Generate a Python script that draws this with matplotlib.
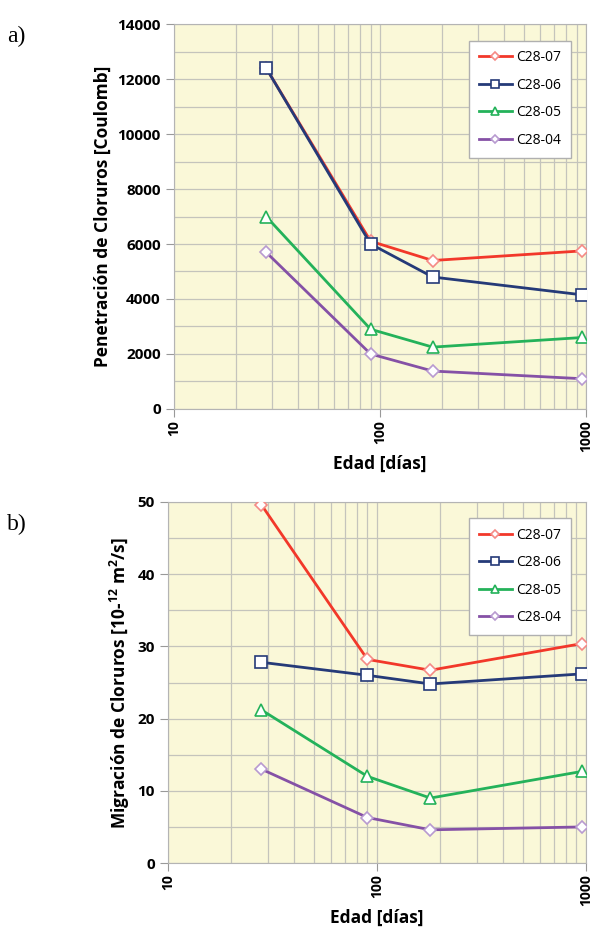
import matplotlib
matplotlib.use("Agg")
import matplotlib.pyplot as plt
from matplotlib.ticker import LogLocator, FixedLocator, MultipleLocator, NullFormatter

# Datos
edad = [28, 90, 180, 960]
series = ["C28-07", "C28-06", "C28-05", "C28-04"]
penetracion = {
    "C28-07": [12400, 6100, 5400, 5750],
    "C28-06": [12400, 6000, 4800, 4150],
    "C28-05": [7000, 2900, 2250, 2600],
    "C28-04": [5700, 2000, 1380, 1100],
}
migracion = {
    "C28-07": [49.6, 28.2, 26.7, 30.4],
    "C28-06": [27.8, 26.0, 24.8, 26.2],
    "C28-05": [21.2, 12.0, 9.0, 12.7],
    "C28-04": [13.0, 6.3, 4.6, 5.0],
}

estilos = {
    "C28-07": dict(color="#f2382a", marker="D", mec="#f58a86", ms=6),
    "C28-06": dict(color="#253a78", marker="s", mec="#253a78", ms=8),
    "C28-05": dict(color="#24b25a", marker="^", mec="#24b25a", ms=8),
    "C28-04": dict(color="#8551a6", marker="D", mec="#b89ad0", ms=6),
}

plt.rcParams["font.family"] = ["Open Sans", "DejaVu Sans"]
plt.rcParams["mathtext.fontset"] = "custom"
plt.rcParams["mathtext.rm"] = "Open Sans:bold"
plt.rcParams["mathtext.bf"] = "Open Sans:bold"
plt.rcParams["mathtext.default"] = "bf"

fig = plt.figure(figsize=(5.93, 9.31), dpi=100)
ax1 = fig.add_axes([0.2934, 0.5607, 0.695, 0.4135])
ax2 = fig.add_axes([0.2833, 0.0730, 0.705, 0.3878])


def dibujar(ax, datos, ymax, ymayor, yminor, ylabel):
    ax.set_facecolor("#faf8d8")
    for s in series:
        st = estilos[s]
        ax.plot(edad, datos[s], color=st["color"], lw=2, marker=st["marker"],
                ms=st["ms"], mfc="white", mec=st["mec"], mew=1.2, label=s,
                zorder=3)
    ax.set_xscale("log")
    ax.set_xlim(10, 1000)
    ax.set_ylim(0, ymax)
    ax.xaxis.set_major_locator(FixedLocator([10, 100, 1000]))
    ax.xaxis.set_minor_locator(LogLocator(base=10, subs=range(2, 10)))
    ax.xaxis.set_minor_formatter(NullFormatter())
    ax.set_xticklabels(["10", "100", "1000"], rotation=90, fontweight="bold",
                       fontsize=10)
    ax.yaxis.set_major_locator(MultipleLocator(ymayor))
    ax.yaxis.set_minor_locator(MultipleLocator(yminor))
    for lab in ax.get_yticklabels():
        lab.set_fontweight("bold")
        lab.set_fontsize(11)
    ax.grid(True, which="both", color="#c4c4bc", lw=0.9)
    ax.set_axisbelow(True)
    ax.tick_params(axis="both", which="major", length=6, color="#999999",
                   direction="out")
    ax.tick_params(axis="x", which="major", pad=2)
    ax.tick_params(axis="x", which="minor", length=0)
    ax.tick_params(axis="y", which="minor", length=0)
    for sp in ax.spines.values():
        sp.set_color("#b4b4b4")
    ax.set_xlabel("Edad [días]", fontsize=12.5, fontweight="bold", labelpad=2)
    ax.set_ylabel(ylabel, fontsize=12.5, fontweight="bold")
    leg = ax.legend(loc="upper right", bbox_to_anchor=(0.98, 0.975),
                    fontsize=10, frameon=True, fancybox=False, handlelength=2.4,
                    borderpad=0.7, labelspacing=0.9, markerscale=0.75,
                    handletextpad=0.3)
    leg.get_frame().set_edgecolor("#b0b0b0")
    leg.get_frame().set_facecolor("white")
    leg.get_frame().set_alpha(1)


dibujar(ax1, penetracion, 14000, 2000, 1000,
        "Penetración de Cloruros [Coulomb]")
dibujar(ax2, migracion, 50, 10, 5,
        "Migración de Cloruros [10-$^{12}$ m$^{2}$/s]")

fig.text(0.012, 0.972, "a)", fontsize=17, family="Liberation Serif",
         va="top")
fig.text(0.012, 0.448, "b)", fontsize=17, family="Liberation Serif",
         va="top")

fig.savefig("out.png", dpi=100)
